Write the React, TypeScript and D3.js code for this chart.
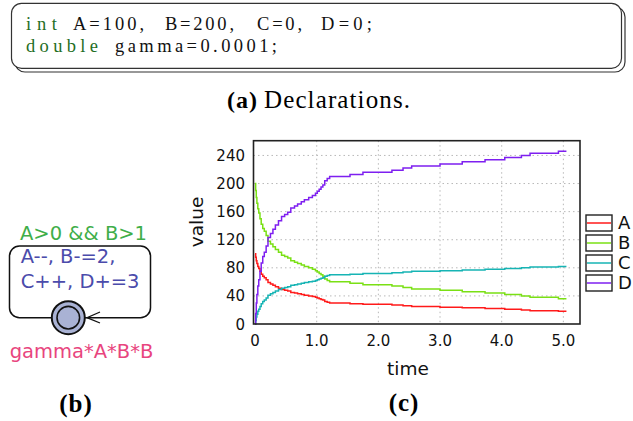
import React from "react";
import * as d3 from "d3";

// simulation trace (time in model units, counts of each species)
const times = [0, 0.01, 0.02, 0.03, 0.045, 0.06, 0.08, 0.1, 0.125, 0.15, 0.18, 0.21, 0.25, 0.29, 0.33, 0.38, 0.43, 0.48, 0.53, 0.58, 0.64, 0.69, 0.75, 0.8, 0.87, 0.93, 0.98, 1.01, 1.04, 1.07, 1.1, 1.13, 1.17, 1.21, 1.54, 1.75, 2.22, 2.4, 2.54, 3.0, 3.36, 3.73, 4.05, 4.32, 4.46, 4.92, 5.05];
const valuesA = [100, 95, 90, 86, 82, 79, 75, 71, 68, 66, 63, 59, 57, 55, 53, 51, 49, 48, 47, 45, 44, 43, 42, 41, 40, 39, 38, 37, 36, 35, 34, 32, 31, 30, 29, 28, 27, 26, 25, 24, 23, 22, 21, 20, 19, 18, 18];
const valuesB = [200, 190, 180, 172, 164, 158, 150, 142, 136, 132, 126, 118, 114, 110, 106, 102, 98, 96, 94, 90, 88, 86, 84, 82, 80, 78, 76, 74, 72, 70, 68, 64, 62, 60, 58, 56, 54, 52, 50, 48, 46, 44, 42, 40, 38, 36, 36];
const valuesC = [0, 5, 10, 14, 18, 21, 25, 29, 32, 34, 37, 41, 43, 45, 47, 49, 51, 52, 53, 55, 56, 57, 58, 59, 60, 61, 62, 63, 64, 65, 66, 68, 69, 70, 71, 72, 73, 74, 75, 76, 77, 78, 79, 80, 81, 82, 82];
const valuesD = [0, 15, 30, 42, 54, 63, 75, 87, 96, 102, 111, 123, 129, 135, 141, 147, 153, 156, 159, 165, 168, 171, 174, 177, 180, 183, 186, 189, 192, 195, 198, 204, 207, 210, 213, 216, 219, 222, 225, 228, 231, 234, 237, 240, 243, 246, 246];

const seriesNames = ["A", "B", "C", "D"];
const seriesColors = ["#ff1a1a", "#7ae014", "#16b4b4", "#7e1ff0"];
const xTicks = [0, 1, 2, 3, 4, 5];
const yTicks = [0, 40, 80, 120, 160, 200, 240];

// declaration tokens: [text, x, width, isKeyword]
const declLine1: [string, number, number, boolean][] = [
  ["int", 26, 31, true], ["A=100,", 73, 71, false], ["B=200,", 165, 69, false],
  ["C=0,", 257, 45, false], ["D=0;", 321, 51, false],
];
const declLine2: [string, number, number, boolean][] = [
  ["double", 26, 72, true], ["gamma=0.0001;", 115, 162, false],
];

const sans = "DejaVu Sans, Verdana, sans-serif";
const serif = "Liberation Serif, Times New Roman, serif";

const Chart = () => {
  const left = 253.5, right = 580, top = 140.7, bottom = 324;
  const x = d3.scaleLinear().domain([-0.025, 5.27]).range([left, right]);
  const y = d3.scaleLinear().domain([0, 261]).range([bottom, top]);
  const allSeries = [valuesA, valuesB, valuesC, valuesD];
  const line = d3
    .line<number>()
    .x((d, i) => x(times[i]))
    .y((d) => y(d))
    .curve(d3.curveStepAfter);

  return (
    <g>
      {/* grid */}
      {yTicks.slice(1).map((t) => (
        <line key={"gy" + t} x1={left} x2={right} y1={y(t)} y2={y(t)}
          stroke="#b8b8b8" strokeWidth={1} strokeDasharray="1.5,3" />
      ))}
      {xTicks.slice(1).map((t) => (
        <line key={"gx" + t} x1={x(t)} x2={x(t)} y1={top} y2={bottom}
          stroke="#b8b8b8" strokeWidth={1} strokeDasharray="1.5,3" />
      ))}
      {allSeries.map((vals, i) => (
        <path key={seriesNames[i]} d={line(vals) || ""} fill="none"
          stroke={seriesColors[i]} strokeWidth={1.5} />
      ))}
      <rect x={left} y={top} width={right - left} height={bottom - top}
        fill="none" stroke="#222" strokeWidth={1.6} />
      {yTicks.map((t) => (
        <text key={"ty" + t} x={245} y={y(t) + 5.5} textAnchor="end"
          fontFamily={sans} fontSize={15} fill="#111">{t}</text>
      ))}
      {xTicks.map((t) => (
        <text key={"tx" + t} x={x(t)} y={345.5} textAnchor="middle"
          fontFamily={sans} fontSize={15} fill="#111">
          {t === 0 ? "0" : d3.format(".1f")(t)}
        </text>
      ))}
      <text x={408} y={375} textAnchor="middle" fontFamily={sans} fontSize={18.5} fill="#111">time</text>
      <text transform="translate(203,222) rotate(-90)" textAnchor="middle"
        fontFamily={sans} fontSize={18.5} fill="#111">value</text>
      {seriesNames.map((n, i) => (
        <g key={"lg" + n} transform={`translate(586,${215 + i * 20})`}>
          <rect x={0} y={0} width={26} height={16} fill="none" stroke="#222" strokeWidth={1.4} />
          <line x1={1} x2={25} y1={8} y2={8} stroke={seriesColors[i]} strokeWidth={1.5} />
          <text x={32} y={14} fontFamily={sans} fontSize={18} fill="#111">{n}</text>
        </g>
      ))}
      <text x={404} y={411} textAnchor="middle" fontFamily={serif} fontWeight="bold"
        fontSize={25} letterSpacing={1} fill="#000">(c)</text>
    </g>
  );
};

const Declarations = () => (
  <g>
    <rect x={15} y={7} width={610} height={65} rx={10} fill="none" stroke="#333" strokeWidth={1.2} />
    <rect x={11.5} y={3.3} width={610} height={65} rx={10} fill="#fff" stroke="#333" strokeWidth={1.2} />
    {[declLine1, declLine2].map((tokens, li) =>
      tokens.map(([txt, tx, tw, kw]) => (
        <text key={li + txt} x={tx} y={li === 0 ? 30 : 51.7} fontFamily={serif} fontSize={18.5}
          fill={kw ? "#1f6e1f" : "#111"} textLength={tw} lengthAdjust="spacing">{txt}</text>
      ))
    )}
    <text x={227} y={108} fontFamily={serif} fontSize={24} fontWeight="bold" fill="#000"
      textLength={30} lengthAdjust="spacing">(a)</text>
    <text x={264} y={108} fontFamily={serif} fontSize={25} fill="#000"
      textLength={146} lengthAdjust="spacing">Declarations.</text>
  </g>
);

const Automaton = () => (
  <g>
    <text x={83.5} y={240} textAnchor="middle" fontFamily={sans} fontSize={19.5} fill="#3fae49">A&gt;0 &amp;&amp; B&gt;1</text>
    <rect x={9.5} y={246} width={141} height={71.7} rx={10} fill="none" stroke="#111" strokeWidth={1.5} />
    <polyline points="100,312 87,317.7 100,323" fill="none" stroke="#111" strokeWidth={1.3} />
    <circle cx={68.3} cy={317.7} r={16.5} fill="#a9b2d4" stroke="#111" strokeWidth={2} />
    <circle cx={68.3} cy={317.7} r={11.3} fill="none" stroke="#111" strokeWidth={1.6} />
    <text x={20.7} y={263.3} fontFamily={sans} fontSize={19.5} fill="#4b4bab">A--, B-=2,</text>
    <text x={20.7} y={288.3} fontFamily={sans} fontSize={19.5} fill="#4b4bab">C++, D+=3</text>
    <text x={81.5} y={358.3} textAnchor="middle" fontFamily={sans} fontSize={19.5} fill="#e8457e">gamma*A*B*B</text>
    <text x={76} y={411.5} textAnchor="middle" fontFamily={serif} fontWeight="bold"
      fontSize={25} letterSpacing={1} fill="#000">(b)</text>
  </g>
);

export default function App() {
  return (
    <svg width={633} height={421} style={{ position: "absolute", left: 0, top: 0, background: "#fff" }}>
      <Declarations />
      <Automaton />
      <Chart />
    </svg>
  );
}
